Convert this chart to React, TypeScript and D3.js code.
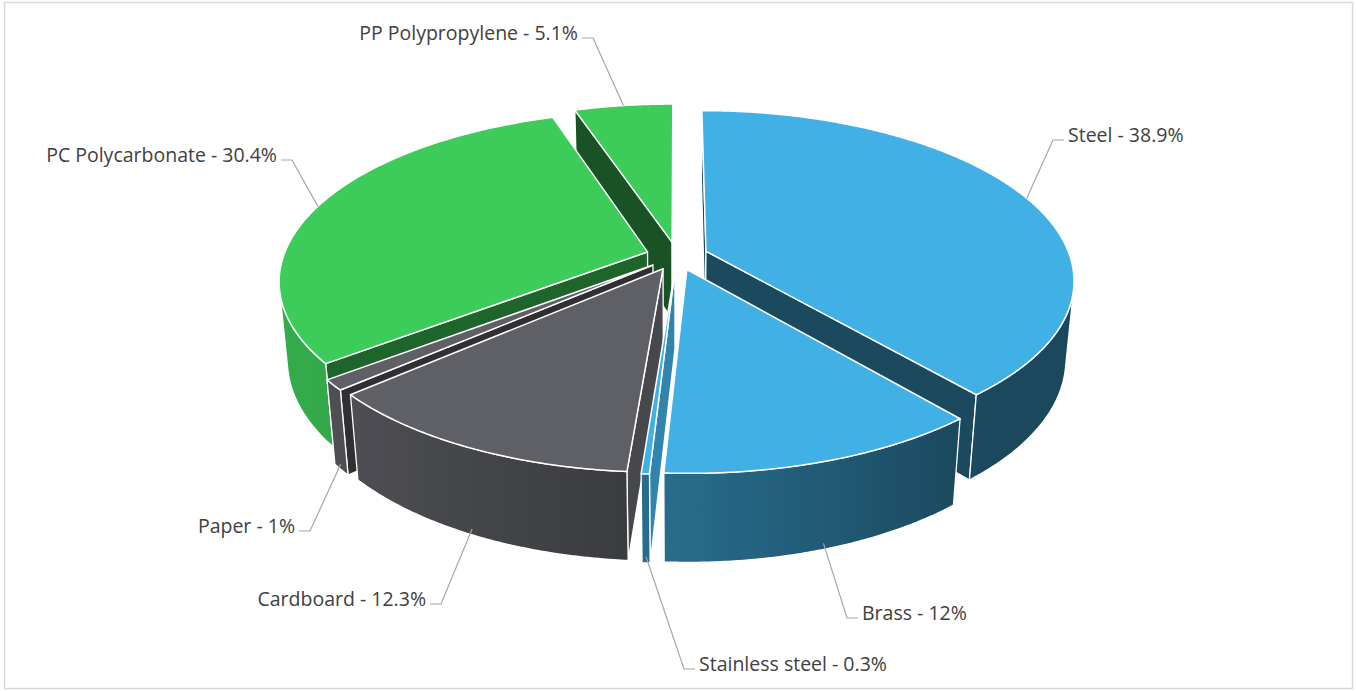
import React from 'react';
import * as d3 from 'd3';

const categories = ['Steel', 'Brass', 'Stainless steel', 'Cardboard', 'Paper', 'PC Polycarbonate', 'PP Polypropylene'];
const shares = [38.9, 12, 0.3, 12.3, 1, 30.4, 5.1];
const materialGroup = ['metal', 'metal', 'metal', 'paper', 'paper', 'plastic', 'plastic'];

// where each leader line bends (screen px), and the side the text sits on
const labelElbow: [number, number][] = [[1053, 140], [847, 618], [684, 669], [441, 604], [310, 531], [292, 160], [593, 38]];
const labelSide = ['right', 'right', 'right', 'left', 'left', 'left', 'left'];

const groupColor: Record<string, string> = { metal: '#41B0E4', paper: '#5F6066', plastic: '#3DCB59' };

const W = 1356, H = 691;
const cx = 677, cy = 256;
const scale = 364;
const tilt = (27 * Math.PI) / 180;
const sinT = Math.sin(tilt), cosT = Math.cos(tilt);
const camDist = cosT / 0.165;
const cam = { x: 0, y: camDist * sinT, z: camDist * cosT };
const thickness = 0.245;
const explode = 0.085;
const step = (0.5 * Math.PI) / 180;

type Pt = [number, number];

function project(x: number, y: number, z: number): Pt {
    const depth = 1 - (y * sinT + z * cosT) / camDist;
    return [cx + (scale * x) / depth, cy - (scale * (y * cosT - z * sinT)) / depth];
}

const shade = (color: string, f: number) => {
    const c = d3.rgb(color);
    return d3.rgb(c.r * f, c.g * f, c.b * f).formatHex();
};
const wallShade = (t: number) => Math.max(0.41, Math.min(0.84, 0.6 - 0.29 * Math.sin(t)));
const sideShade = d3.scaleLinear().domain([-1, 0.66, 1]).range([0.4, 0.5, 0.75]);

const poly = (pts: Pt[]) => (d3.line()(pts) as string) + 'Z';

const arcs = d3.pie<number>().sort(null).value(d => d)(shares);

const slices = arcs.map((a, i) => {
    const mid = (a.startAngle + a.endAngle) / 2;
    const ox = explode * Math.sin(mid);
    const oz = -explode * Math.cos(mid);
    const rim = (t: number, y: number) => project(ox + Math.sin(t), y, oz - Math.cos(t));
    const wallVisible = (t: number) =>
        Math.sin(t) * (cam.x - (ox + Math.sin(t))) - Math.cos(t) * (cam.z - (oz - Math.cos(t))) > 0;
    const n = Math.max(2, Math.ceil((a.endAngle - a.startAngle) / step));
    const angles = d3.range(n + 1).map(k => a.startAngle + ((a.endAngle - a.startAngle) * k) / n);
    return { i, a, mid, ox, oz, rim, wallVisible, angles, color: groupColor[materialGroup[i]] };
});

function SliceSides({ s }: { s: (typeof slices)[number] }) {
    const { i, a, ox, oz, rim, wallVisible, angles, color } = s;
    const apexTop = project(ox, 0, oz);
    const apexBot = project(ox, -thickness, oz);
    const parts: React.ReactNode[] = [];

    // radial faces
    const faces = [
        { phi: a.startAngle, nx: -Math.cos(a.startAngle), nz: -Math.sin(a.startAngle) },
        { phi: a.endAngle, nx: Math.cos(a.endAngle), nz: Math.sin(a.endAngle) },
    ];
    faces.forEach((f, k) => {
        const facing = f.nx * (cam.x - ox) + f.nz * (cam.z - oz) > 0;
        if (!facing) return;
        const pts: Pt[] = [apexTop, rim(f.phi, 0), rim(f.phi, -thickness), apexBot];
        parts.push(
            <path key={'r' + k} d={poly(pts)} fill={shade(color, sideShade(f.nx))} stroke="#fff" strokeWidth={1.3} strokeLinejoin="round" />
        );
    });

    // visible runs of the outer wall
    const runs: number[][] = [];
    let cur: number[] = [];
    for (let k = 0; k < angles.length - 1; k++) {
        const t0 = angles[k], t1 = angles[k + 1];
        if (wallVisible((t0 + t1) / 2)) {
            if (!cur.length) cur.push(t0);
            cur.push(t1);
        } else if (cur.length) {
            runs.push(cur);
            cur = [];
        }
    }
    if (cur.length) runs.push(cur);

    runs.forEach((run, r) => {
        const id = `wall-${i}-${r}`;
        const xa = rim(run[0], 0)[0];
        const xb = rim(run[run.length - 1], 0)[0];
        const span = Math.abs(xb - xa) < 0.01 ? 1 : xb - xa;
        const stops = d3.range(11).map(k => {
            const t = run[0] + ((run[run.length - 1] - run[0]) * k) / 10;
            return { off: Math.max(0, Math.min(1, (rim(t, 0)[0] - xa) / span)), col: shade(color, wallShade(t)) };
        });
        const outline: Pt[] = [...run.map(t => rim(t, 0)), ...run.slice().reverse().map(t => rim(t, -thickness))];
        parts.push(
            <linearGradient key={'g' + r} id={id} gradientUnits="userSpaceOnUse" x1={xa} y1={0} x2={xa + span} y2={0}>
                {stops.map((st, k) => <stop key={k} offset={st.off} stopColor={st.col} />)}
            </linearGradient>
        );
        parts.push(<path key={'o' + r} d={poly(outline)} fill={`url(#${id})`} stroke="#fff" strokeWidth={1.3} strokeLinejoin="round" />);
    });
    return <g>{parts}</g>;
}

export default function App() {
    // far slices first
    const order = slices
        .slice()
        .sort((p, q) => (p.oz - 0.6 * Math.cos(p.mid)) - (q.oz - 0.6 * Math.cos(q.mid)));

    return (
        <svg width={W} height={H} style={{ position: 'absolute', left: 0, top: 0, background: '#fff' }}
            fontFamily="'Open Sans', sans-serif">
            <rect x={4.5} y={2.5} width={1348} height={686} fill="#fff" stroke="#D9D9D9" strokeWidth={1.5} />
            {order.map(s => <SliceSides key={'s' + s.i} s={s} />)}
            {slices.map(s => {
                const pts: Pt[] = [project(s.ox, 0, s.oz), ...s.angles.map(t => s.rim(t, 0))];
                return <path key={'t' + s.i} d={poly(pts)} fill={s.color} stroke="#fff" strokeWidth={1.5} strokeLinejoin="round" />;
            })}
            {slices.map(s => {
                const start = s.wallVisible(s.mid) ? s.rim(s.mid, -thickness * 0.93) : s.rim(s.mid, 0);
                const [ex, ey] = labelElbow[s.i];
                const dir = labelSide[s.i] === 'right' ? 1 : -1;
                return (
                    <g key={'l' + s.i}>
                        <path d={`M${start[0]},${start[1]}L${ex},${ey}L${ex + dir * 11},${ey}`} fill="none" stroke="#A6A6A6" strokeWidth={1.2} />
                        <text x={ex + dir * 15} y={ey + 1.5} textAnchor={dir > 0 ? 'start' : 'end'} fontSize={19.5} fill="#404040">
                            {`${categories[s.i]} - ${shares[s.i]}%`}
                        </text>
                    </g>
                );
            })}
        </svg>
    );
}
